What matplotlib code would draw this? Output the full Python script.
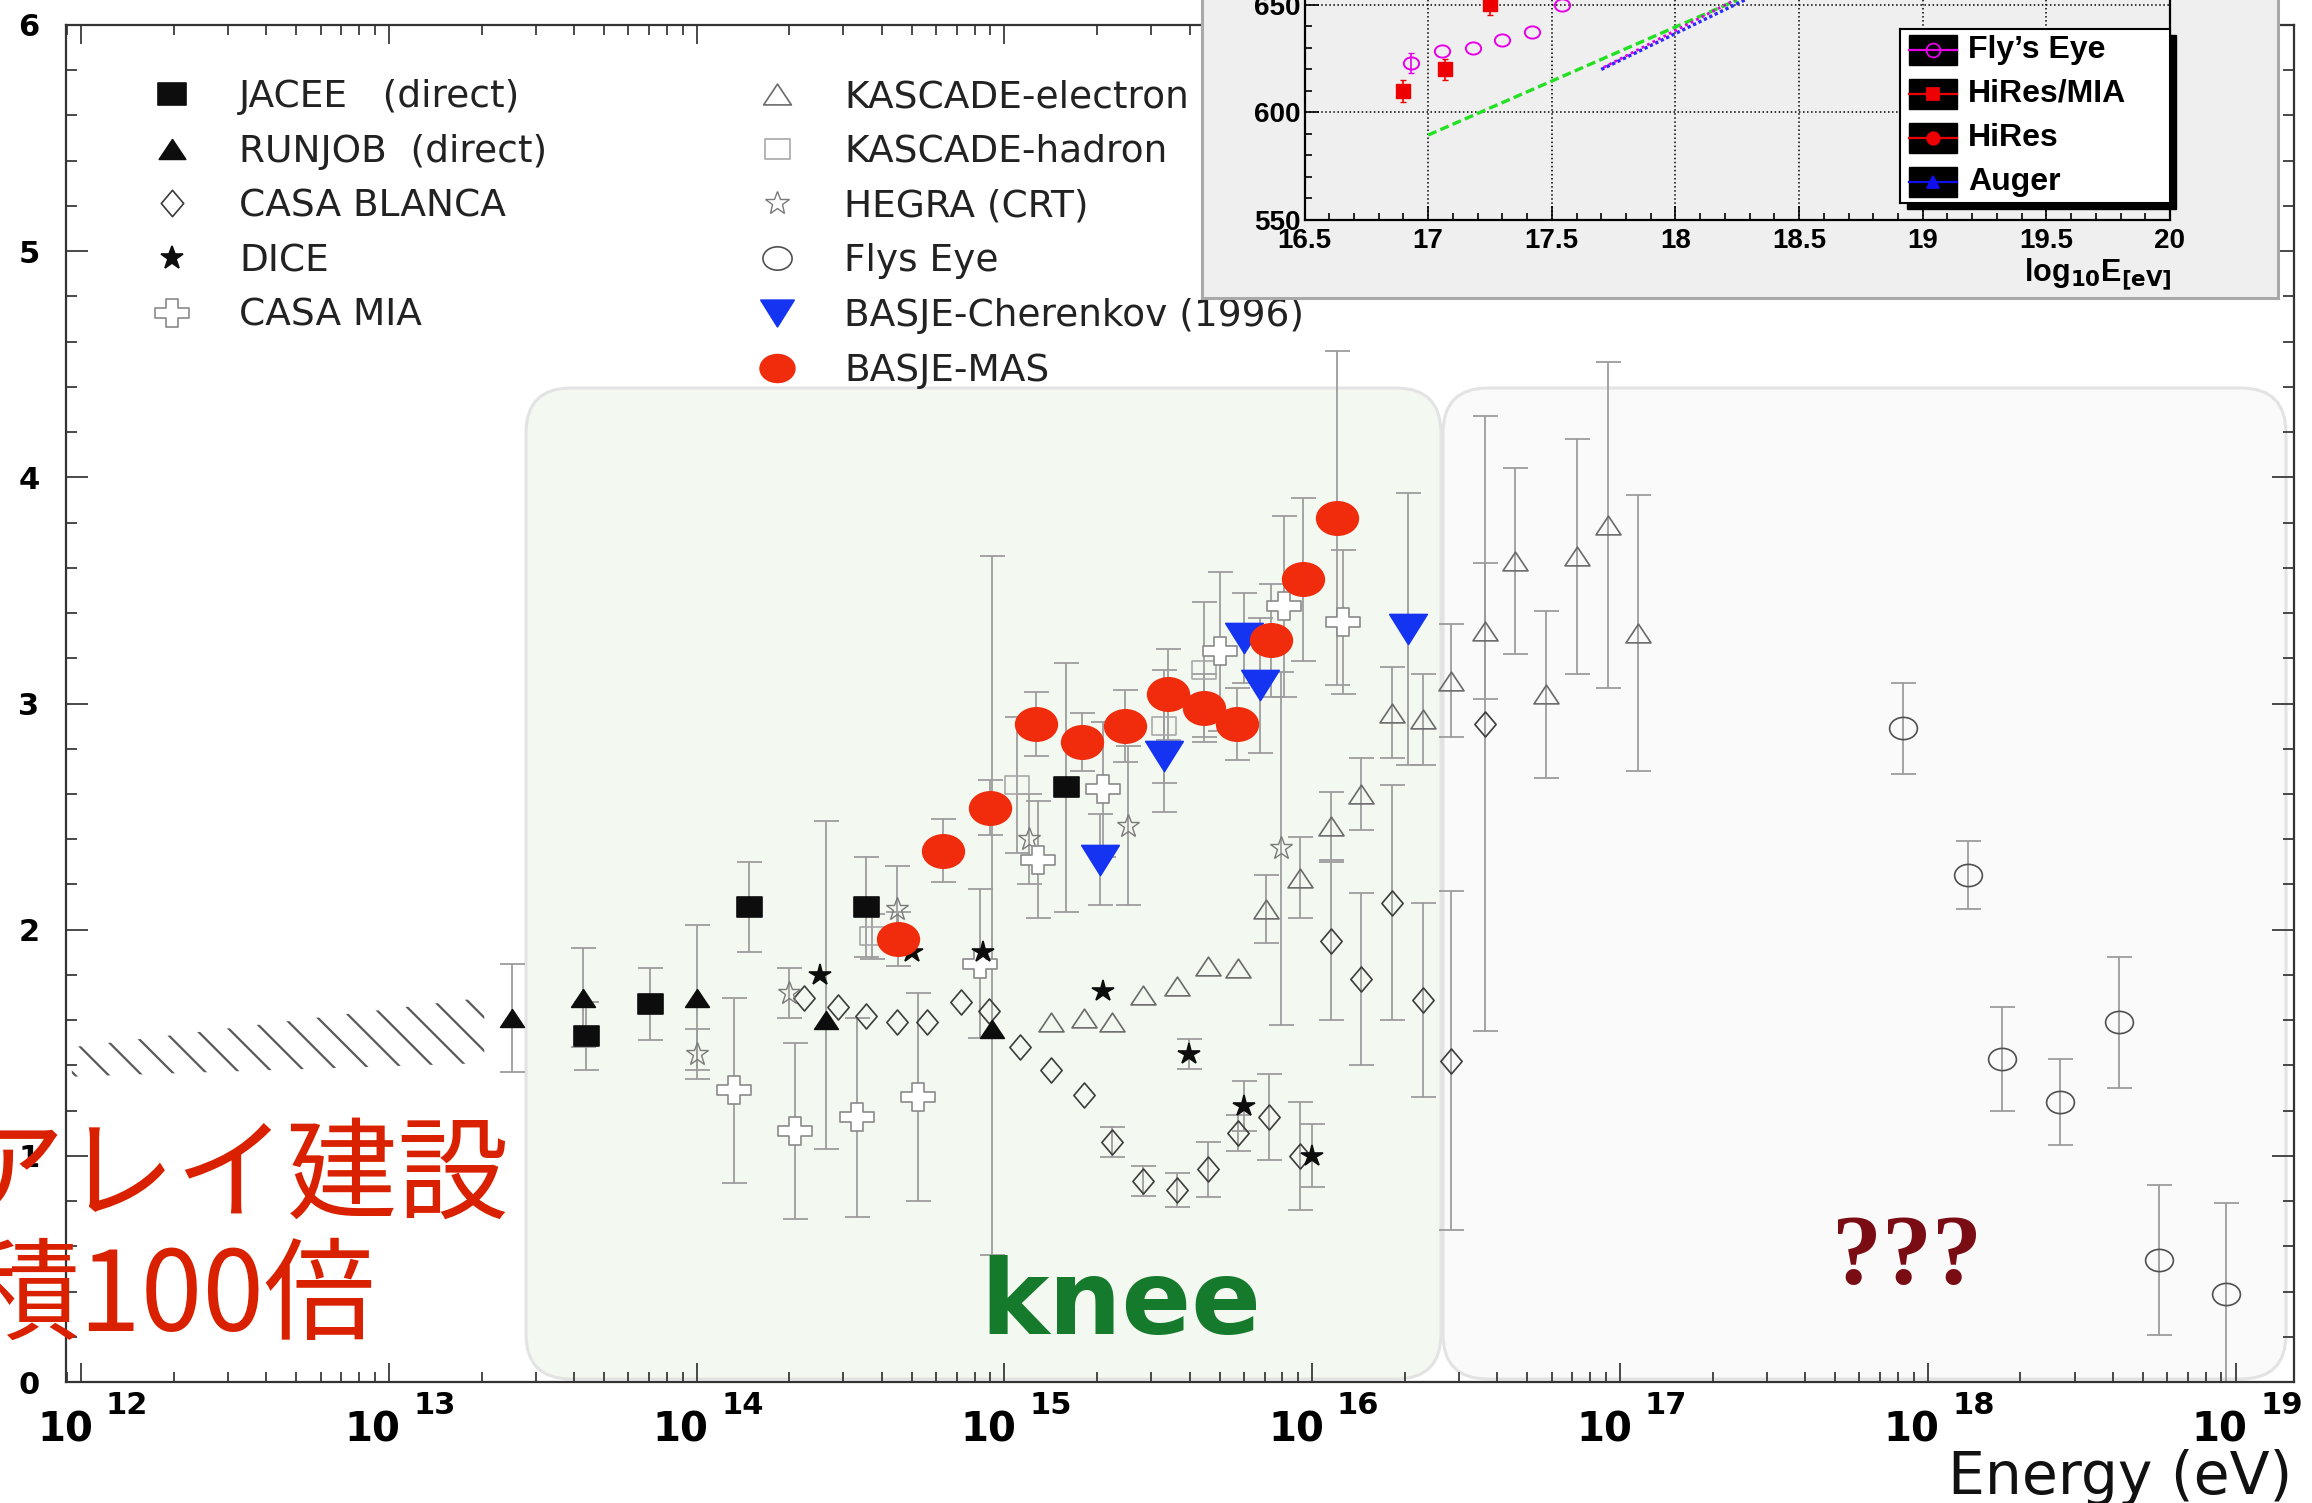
import numpy as np
import matplotlib.pyplot as plt
import matplotlib.ticker as mticker
from matplotlib.lines import Line2D
from matplotlib.patches import FancyBboxPatch, Rectangle
from matplotlib.path import Path
from matplotlib.transforms import Affine2D, blended_transform_factory, offset_copy

plt.rcParams['hatch.color'] = '#5a5a5a'
plt.rcParams['hatch.linewidth'] = 1.6
plt.rcParams['mathtext.default'] = 'bf'

W, H = 2312, 1503

# ---------------- main chart data (x = log10(E/eV)) ----------------
jacee_x = [13.64, 13.85, 14.17, 14.55, 15.20]
jacee_y = [1.53, 1.67, 2.10, 2.10, 2.63]
jacee_e = [0.15, 0.16, 0.20, 0.22, 0.55]

runjob_x = [13.40, 13.63, 14.00, 14.42, 14.96]
runjob_y = [1.61, 1.70, 1.70, 1.60, 1.56]
runjob_lo = [0.24, 0.22, 0.32, 0.57, 1.00]
runjob_hi = [0.24, 0.22, 0.32, 0.88, 2.09]

casab_x = [14.35, 14.46, 14.55, 14.65, 14.75, 14.86, 14.95, 15.05, 15.15, 15.26, 15.35, 15.45,
           15.56, 15.66, 15.76, 15.86, 15.96, 16.06, 16.16, 16.26, 16.36, 16.45, 16.56]
casab_y = [1.70, 1.66, 1.62, 1.59, 1.59, 1.68, 1.64, 1.48, 1.38, 1.27, 1.06, 0.89,
           0.85, 0.94, 1.10, 1.17, 1.00, 1.95, 1.78, 2.12, 1.69, 1.42, 2.91]
casab_e = [0, 0, 0, 0, 0, 0, 0, 0, 0, 0, 0.066, 0.066,
           0.075, 0.12, 0.08, 0.19, 0.24, 0.35, 0.38, 0.52, 0.43, 0.75, 1.36]

dice_x = [14.40, 14.70, 14.93, 15.32, 15.60, 15.78, 16.00]
dice_y = [1.80, 1.90, 1.90, 1.73, 1.45, 1.22, 1.00]
dice_e = [0, 0, 0, 0, 0.066, 0.11, 0.14]

casamia_x = [14.12, 14.32, 14.52, 14.72, 14.92, 15.11, 15.32, 15.70, 15.91, 16.10]
casamia_y = [1.29, 1.11, 1.17, 1.26, 1.85, 2.31, 2.62, 3.23, 3.43, 3.36]
casamia_e = [0.41, 0.39, 0.44, 0.46, 0.33, 0.26, 0.30, 0.35, 0.40, 0.32]

kasc_e_x = [15.15, 15.26, 15.35, 15.45, 15.56, 15.66, 15.76, 15.85, 15.96, 16.06, 16.16,
            16.26, 16.36, 16.45, 16.56, 16.66, 16.76, 16.86, 16.96, 17.06]
kasc_e_y = [1.59, 1.61, 1.59, 1.71, 1.75, 1.84, 1.83, 2.09, 2.23, 2.46, 2.60,
            2.96, 2.93, 3.10, 3.32, 3.63, 3.04, 3.65, 3.79, 3.31]
kasc_e_e = [0, 0, 0, 0, 0, 0, 0, 0.15, 0.18, 0.15, 0.16,
            0.20, 0.20, 0.25, 0.30, 0.41, 0.37, 0.52, 0.72, 0.61]

kasc_h_x = [14.57, 15.04, 15.52, 15.65]
kasc_h_y = [1.97, 2.64, 2.90, 3.15]
kasc_h_e = [0.10, 0.30, 0.25, 0.30]

hegra_x = [14.00, 14.30, 14.65, 15.08, 15.40, 15.90]
hegra_y = [1.45, 1.72, 2.09, 2.40, 2.46, 2.36]
hegra_e = [0.11, 0.11, 0.19, 0.20, 0.35, 0.78]

flys_x = [17.92, 18.13, 18.24, 18.43, 18.62, 18.75, 18.97]
flys_y = [2.89, 2.24, 1.43, 1.24, 1.59, 0.54, 0.39]
flys_e = [0.20, 0.15, 0.23, 0.19, 0.29, 0.33, 0.40]

cher_x = [15.31, 15.52, 15.78, 15.83, 16.31]
cher_y = [2.31, 2.77, 3.29, 3.08, 3.33]
cher_e = [0.20, 0.25, 0.20, 0.30, 0.60]

mas_x = [14.655, 14.80, 14.954, 15.104, 15.252, 15.391, 15.53, 15.647, 15.757, 15.866, 15.971, 16.081]
mas_y = [1.96, 2.35, 2.54, 2.91, 2.83, 2.90, 3.04, 2.98, 2.91, 3.28, 3.55, 3.82]
mas_e = [0.12, 0.14, 0.12, 0.14, 0.13, 0.16, 0.20, 0.15, 0.16, 0.25, 0.36, 0.74]

# hatched band (direct measurements)
band_x = [11.97, 13.31]
band_lo = [1.35, 1.41]
band_hi = [1.48, 1.70]

exps = list(range(12, 20))

# ---------------- inset data ----------------
fe_x = [16.93, 17.055, 17.18, 17.30, 17.42, 17.54]
fe_y = [623.0, 628.7, 629.9, 633.7, 637.3, 649.9]
fe_e = [4.6, 0, 0, 0, 0, 0]
hm_x = [16.90, 17.07, 17.25]
hm_y = [610.0, 620.0, 650.3]
hm_e = [5.0, 5.0, 5.0]
green_x = [17.0, 18.25]
green_y = [589.5, 652.3]
blue_x = [17.70, 18.28]
blue_y = [620.0, 652.3]
mag_x = [17.71, 18.24]
mag_y = [621.0, 652.3]

ins_names = ["Fly\u2019s Eye", 'HiRes/MIA', 'HiRes', 'Auger']
ins_colors = ['#e800e8', '#ee0000', '#ee0000', '#1010ee']
ins_markers = ['o', 's', 'o', '^']
ins_filled = [False, True, True, True]


def fx(px):
    return px / W


def fy(py):
    return 1 - py / H


def shape(verts):
    return Path(list(verts) + [verts[0]], closed=True)


m_rect = shape([(-1, -0.8), (1, -0.8), (1, 0.8), (-1, 0.8)])
m_tri = shape([(0, 0.75), (1, -0.75), (-1, -0.75)])
m_tri_dn = shape([(-1, 0.8), (1, 0.8), (0, -0.8)])
m_diam = shape([(0, 1), (0.85, 0), (0, -1), (-0.85, 0)])
t = 0.36
m_cross = shape([(-t, 1), (t, 1), (t, t), (1, t), (1, -t), (t, -t), (t, -1), (-t, -1),
                 (-t, -t), (-1, -t), (-1, t), (-t, t)])
m_cross = m_cross.transformed(Affine2D().scale(1, 0.82))
m_ell = Path.unit_circle().transformed(Affine2D().scale(1, 0.8))

fig = plt.figure(figsize=(W / 100, H / 100), dpi=100)
ax = fig.add_axes([fx(66), fy(1382), fx(2294) - fx(66), fy(25) - fy(1382)])
ax.set_xscale('log')
ax.set_xlim(10 ** 11.951, 10 ** 19.19)
ax.set_ylim(0, 6)

# shaded regions (behind data)
for x0, x1, fc in [(526, 1441, '#f3f9f1'), (1443, 2286, '#fbfafa')]:
    box = FancyBboxPatch((x0 / 100, (H - 1379) / 100), (x1 - x0) / 100, (1379 - 388) / 100,
                         boxstyle='round,pad=0,rounding_size=0.45', transform=fig.dpi_scale_trans,
                         facecolor=fc, edgecolor='#e3e3e3', linewidth=2.2, zorder=0.5, clip_on=False)
    ax.add_patch(box)

ax.fill_between(10 ** np.array(band_x), band_lo, band_hi, hatch='\\', facecolor='none',
                edgecolor='#5a5a5a', linewidth=0, zorder=1)


def series(x, y, err, marker, ms, mfc, mec, mew=1.2):
    x = 10 ** np.asarray(x, dtype=float)
    y = np.asarray(y, dtype=float)
    err = np.asarray(err, dtype=float)
    if err.ndim == 1:
        keep = err > 0
        e = err[keep]
    else:
        keep = err.sum(axis=0) > 0
        e = err[:, keep]
    if keep.any():
        ax.errorbar(x[keep], y[keep], yerr=e, fmt='none', ecolor='#9c9c9c', elinewidth=1.3,
                    capsize=9, capthick=1.3, zorder=2)
    ax.plot(x, y, ls='none', marker=marker, ms=ms, mfc=mfc, mec=mec, mew=mew, zorder=3)


series(casab_x, casab_y, casab_e, m_diam, 18, 'none', '#3c3c3c')
series(kasc_e_x, kasc_e_y, kasc_e_e, m_tri, 18, 'none', '#6a6a6a')
series(kasc_h_x, kasc_h_y, kasc_h_e, m_rect, 17, 'none', '#a8a8a8')
series(hegra_x, hegra_y, hegra_e, '*', 17, 'none', '#7a7a7a', 1.0)
series(casamia_x, casamia_y, casamia_e, m_cross, 24, 'white', '#8a8a8a')
series(flys_x, flys_y, flys_e, m_ell, 20, 'none', '#505050')
series(jacee_x, jacee_y, jacee_e, m_rect, 18, '#0d0d0d', '#0d0d0d')
series(runjob_x, runjob_y, [runjob_lo, runjob_hi], m_tri, 17, '#0d0d0d', '#0d0d0d')
series(dice_x, dice_y, dice_e, '*', 16, '#0d0d0d', '#0d0d0d')
series(cher_x, cher_y, cher_e, m_tri_dn, 27, '#1434f2', '#1434f2')
series(mas_x, mas_y, mas_e, m_ell, 30, '#f02c0c', '#f02c0c')

# axes style
for s in ax.spines.values():
    s.set_color('#333333')
    s.set_linewidth(1.6)
ax.xaxis.set_major_locator(mticker.LogLocator(base=10, numticks=20))
ax.xaxis.set_minor_locator(mticker.LogLocator(base=10, subs=np.arange(2, 10), numticks=100))
ax.xaxis.set_major_formatter(mticker.NullFormatter())
ax.xaxis.set_minor_formatter(mticker.NullFormatter())
ax.set_yticks(range(7))
ax.set_yticklabels([str(i) for i in range(7)], fontsize=22, fontweight='bold', family='DejaVu Sans')
ax.yaxis.set_minor_locator(mticker.MultipleLocator(0.2))
ax.tick_params(which='both', direction='in', top=True, right=True, color='#3a3a3a', width=1.3)
ax.tick_params(axis='x', which='major', length=14)
ax.tick_params(axis='x', which='minor', length=7)
ax.tick_params(axis='y', which='major', length=16, pad=19)
ax.tick_params(axis='y', which='minor', length=8)

bt = blended_transform_factory(ax.transData, ax.transAxes)
for k in exps:
    ax.text(10.0 ** k, 0, '10', transform=offset_copy(bt, fig=fig, x=-16, y=-48, units='dots'),
            ha='center', va='center', fontsize=29, fontweight='bold', family='DejaVu Sans')
    ax.text(10.0 ** k, 0, str(k), transform=offset_copy(bt, fig=fig, x=46, y=-24, units='dots'),
            ha='center', va='center', fontsize=22, fontweight='bold', family='DejaVu Sans')


def proxy(marker, ms, mfc, mec, mew=1.2):
    return Line2D([], [], ls='none', marker=marker, ms=ms, mfc=mfc, mec=mec, mew=mew)


leg_kw = dict(loc='upper left', bbox_transform=fig.transFigure, frameon=False, borderpad=0,
              borderaxespad=0, handlelength=1.0, handletextpad=1.287, labelspacing=0.50,
              prop=dict(family='DejaVu Sans', size=27), labelcolor='#222222')
leg1 = ax.legend([proxy(m_rect, 20, '#0d0d0d', '#0d0d0d'), proxy(m_tri, 19, '#0d0d0d', '#0d0d0d'),
                  proxy(m_diam, 19, 'none', '#3c3c3c'), proxy('*', 17, '#0d0d0d', '#0d0d0d'),
                  proxy(m_cross, 24, 'white', '#8a8a8a')],
                 ['JACEE   (direct)', 'RUNJOB  (direct)', 'CASA BLANCA', 'DICE', 'CASA MIA'],
                 bbox_to_anchor=(fx(153.3), fy(79)), **leg_kw)
ax.add_artist(leg1)
ax.legend([proxy(m_tri, 20, 'none', '#6a6a6a'), proxy(m_rect, 18, 'none', '#a8a8a8'),
           proxy('*', 18, 'none', '#7a7a7a', 1.0), proxy(m_ell, 21, 'none', '#505050'),
           proxy(m_tri_dn, 24, '#1434f2', '#1434f2'), proxy(m_ell, 25, '#f02c0c', '#f02c0c')],
          ['KASCADE-electron', 'KASCADE-hadron', 'HEGRA (CRT)', 'Flys Eye',
           'BASJE-Cherenkov (1996)', 'BASJE-MAS'],
          bbox_to_anchor=(fx(758.3), fy(79)), **leg_kw)

# ---------------- inset panel ----------------
panel = Rectangle((fx(1202), fy(298)), fx(2278) - fx(1202), 1.05 - fy(298), transform=fig.transFigure,
                  facecolor='#efefef', edgecolor='#a9a9a9', linewidth=2.2, zorder=1)
fig.add_artist(panel)

ax_in = fig.add_axes([fx(1304.5), fy(220), fx(2170) - fx(1304.5), fy(0) - fy(220)], zorder=2)
ax_in.set_facecolor('#efefef')
ax_in.set_xlim(16.5, 20)
ax_in.set_ylim(550, 652.3)
ax_in.spines['top'].set_visible(False)
for s in ['left', 'bottom', 'right']:
    ax_in.spines[s].set_linewidth(1.6)
    ax_in.spines[s].set_color('black')
ax_in.xaxis.set_major_locator(mticker.MultipleLocator(0.5))
ax_in.xaxis.set_minor_locator(mticker.MultipleLocator(0.1))
ax_in.yaxis.set_major_locator(mticker.MultipleLocator(50))
ax_in.yaxis.set_minor_locator(mticker.MultipleLocator(10))
ax_in.xaxis.set_major_formatter(mticker.FuncFormatter(lambda v, p: f'{v:g}'))
ax_in.yaxis.set_major_formatter(mticker.FuncFormatter(lambda v, p: f'{v:g}'))
ax_in.tick_params(which='both', direction='in', color='black', width=1.2)
ax_in.tick_params(which='major', length=10)
ax_in.tick_params(which='minor', length=5)
ax_in.tick_params(axis='x', pad=6)
ax_in.tick_params(axis='y', pad=3)
for lbl in ax_in.get_xticklabels() + ax_in.get_yticklabels():
    lbl.set_fontsize(20)
    lbl.set_fontweight('bold')
    lbl.set_family('Liberation Sans')
ax_in.grid(True, which='major', ls=':', color='black', lw=1.1)

ax_in.plot(green_x, green_y, color='#22e022', ls=(0, (2.7, 1.3)), lw=2.4, zorder=3)
ax_in.plot(blue_x, blue_y, color='#2a2aff', ls=(0, (1, 0.8)), lw=2.4, zorder=3)
ax_in.plot(mag_x, mag_y, color='#e000e0', ls=(0, (1, 1.2)), lw=2.0, zorder=3)
fe_xa, fe_ya, fe_ea = np.array(fe_x), np.array(fe_y), np.array(fe_e)
k = fe_ea > 0
ax_in.errorbar(fe_xa[k], fe_ya[k], yerr=fe_ea[k], fmt='none', ecolor='#e800e8', elinewidth=1.2,
               capsize=2.5, zorder=3)
ax_in.plot(fe_x, fe_y, ls='none', marker=m_ell, ms=11, mfc='none', mec='#e800e8', mew=1.4, zorder=4)
ax_in.errorbar(hm_x, hm_y, yerr=hm_e, fmt='none', ecolor='#ee0000', elinewidth=1.2, capsize=2.5, zorder=3)
ax_in.plot(hm_x, hm_y, ls='none', marker='s', ms=9.5, color='#ee0000', zorder=4)

fig.text(fx(2172), fy(281), r'log$_{10}$E$_{[eV]}$', ha='right', va='baseline', fontsize=22,
         fontweight='bold', family='Liberation Sans', zorder=3)

# inset legend box with shadow
fig.add_artist(Rectangle((fx(1907), fy(209)), fx(2176) - fx(1907), fy(35) - fy(209),
                         transform=fig.transFigure, color='black', zorder=3))
lg = fig.add_axes([fx(1900), fy(203), fx(2170) - fx(1900), fy(29) - fy(203)], zorder=4)
lg.set_xlim(0, 270)
lg.set_ylim(174, 0)
lg.set_xticks([])
lg.set_yticks([])
lg.set_facecolor('white')
for s in lg.spines.values():
    s.set_linewidth(1.5)
    s.set_color('black')
for i, (name, c, m, filled) in enumerate(zip(ins_names, ins_colors, ins_markers, ins_filled)):
    yc = 21 + 44 * i
    lg.add_patch(Rectangle((9, yc - 15), 48, 30, color='black'))
    lg.plot([9, 57], [yc, yc], color=c, lw=1.6)
    lg.plot([33], [yc], marker=m, ms=9 if m != 'o' or filled else 10, mfc=c if filled else 'none',
            mec=c, mew=1.3, ls='none')
    lg.text(68, yc, name, va='center', ha='left', fontsize=23, fontweight='bold', family='Liberation Sans')

# ---------------- annotations ----------------
fig.text(fx(509), fy(1178), 'アレイ建設', ha='right', va='center', fontsize=80, color='#d92100',
         family=['Noto Sans CJK JP'], zorder=5)
fig.text(fx(376), fy(1299), '積100倍', ha='right', va='center', fontsize=80, color='#d92100',
         family=['Noto Sans CJK JP'], zorder=5)
fig.text(fx(1121), fy(1334), 'knee', ha='center', va='baseline', fontsize=74, fontweight='bold',
         color='#167a2d', family='DejaVu Sans', zorder=5)
fig.text(fx(1907), fy(1283), '???', ha='center', va='baseline', fontsize=72, fontweight='bold',
         color='#7a0c13', family='Liberation Serif', zorder=5)
fig.text(fx(2292), fy(1494), 'Energy (eV)', ha='right', va='baseline', fontsize=42,
         family='DejaVu Sans', color='#111111', zorder=5)

fig.savefig('out.png', dpi=100, facecolor='white')
